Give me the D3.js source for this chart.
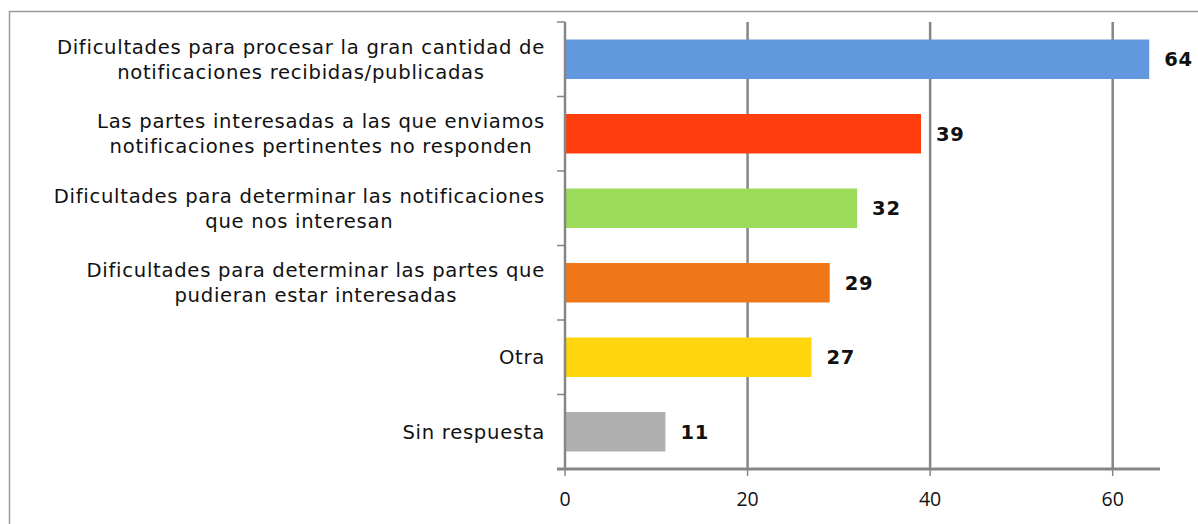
<!DOCTYPE html>
<html><head><meta charset="utf-8">
<script src="https://cdn.jsdelivr.net/npm/d3@7"></script>
<style>body{margin:0;background:#fff}svg{display:block}</style>
</head><body>
<svg id="c" width="1198" height="524"></svg>
<script>
const categories = [
  ["Dificultades para procesar la gran cantidad de", "notificaciones recibidas/publicadas"],
  ["Las partes interesadas a las que enviamos", "notificaciones pertinentes no responden"],
  ["Dificultades para determinar las notificaciones", "que nos interesan"],
  ["Dificultades para determinar las partes que", "pudieran estar interesadas"],
  ["Otra"],
  ["Sin respuesta"]
];
const values = [64, 39, 32, 29, 27, 11];
const colors = ["#6298DD", "#FF3D0D", "#9CDB5A", "#EF7718", "#FFD50D", "#B0B0B0"];
const xTicks = [0, 20, 40, 60];

const svg = d3.select("#c");
svg.append("rect").attr("x", 9.5).attr("y", 11.5).attr("width", 1198).attr("height", 520)
  .attr("fill", "none").attr("stroke", "#9a9a9a").attr("stroke-width", 1.5);

const x0 = 565, x1 = 1160, yTop = 22, yBot = 469;
const x = d3.scaleLinear().domain([0, 60]).range([x0, 1112.7]);
const y = d3.scaleBand().domain(d3.range(categories.length)).range([yTop, yBot]).paddingInner(0.47).paddingOuter(0.235);
const band = (yBot - yTop) / categories.length;
const gray = "#868686";

// gridlines
svg.append("g").selectAll("line").data(xTicks.slice(1)).join("line")
  .attr("x1", d => x(d)).attr("x2", d => x(d)).attr("y1", yTop).attr("y2", yBot)
  .attr("stroke", gray).attr("stroke-width", 2.5);

// bars
svg.append("g").selectAll("rect").data(values).join("rect")
  .attr("x", x(0)).attr("y", (d, i) => y(i)).attr("width", d => x(d) - x(0)).attr("height", y.bandwidth())
  .attr("fill", (d, i) => colors[i]);

// value labels
svg.append("g").selectAll("text").data(values).join("text")
  .attr("x", d => x(d) + 15).attr("y", (d, i) => y(i) + y.bandwidth() / 2)
  .attr("dy", "0.36em").attr("font-family", "DejaVu Sans, Verdana").attr("font-weight", "bold")
  .attr("font-size", 19.5).attr("letter-spacing", 0.8).attr("fill", "#111").text(d => d);

// y axis
const ya = svg.append("g");
ya.append("line").attr("x1", x0).attr("x2", x0).attr("y1", yTop).attr("y2", yBot)
  .attr("stroke", gray).attr("stroke-width", 2.5);
ya.selectAll("line.t").data(d3.range(categories.length + 1)).join("line").attr("class", "t")
  .attr("x1", x0 - 8).attr("x2", x0).attr("y1", i => yTop + i * band).attr("y2", i => yTop + i * band)
  .attr("stroke", gray).attr("stroke-width", 1.5);

// category labels
const lab = svg.append("g").attr("font-family", "DejaVu Sans, Verdana").attr("font-size", 19.6)
  .attr("letter-spacing", 0.72).attr("fill", "#111");
categories.forEach((lines, i) => {
  const cy = y(i) + y.bandwidth() / 2;
  const lh = 25;
  const t = lab.append("text").attr("text-anchor", "middle");
  lines.forEach((l, k) => {
    t.append("tspan").attr("x", 0).attr("y", cy + (k - (lines.length - 1) / 2) * lh).attr("dy", "0.36em").text(l);
  });
  const w = t.node().getBBox().width;
  t.selectAll("tspan").attr("x", 545 - w / 2);
});

// x axis
const xa = svg.append("g");
xa.append("line").attr("x1", x0 - 8).attr("x2", x1).attr("y1", yBot).attr("y2", yBot)
  .attr("stroke", gray).attr("stroke-width", 3);
xa.selectAll("line.t").data(xTicks).join("line").attr("class", "t")
  .attr("x1", d => x(d)).attr("x2", d => x(d)).attr("y1", yBot).attr("y2", yBot + 7)
  .attr("stroke", gray).attr("stroke-width", 1.5);
xa.selectAll("text").data(xTicks).join("text")
  .attr("x", d => x(d)).attr("y", 506).attr("text-anchor", "middle")
  .attr("font-family", "Open Sans, Liberation Sans").attr("font-size", 19.5).attr("fill", "#111").text(d => d);
</script>
</body></html>
